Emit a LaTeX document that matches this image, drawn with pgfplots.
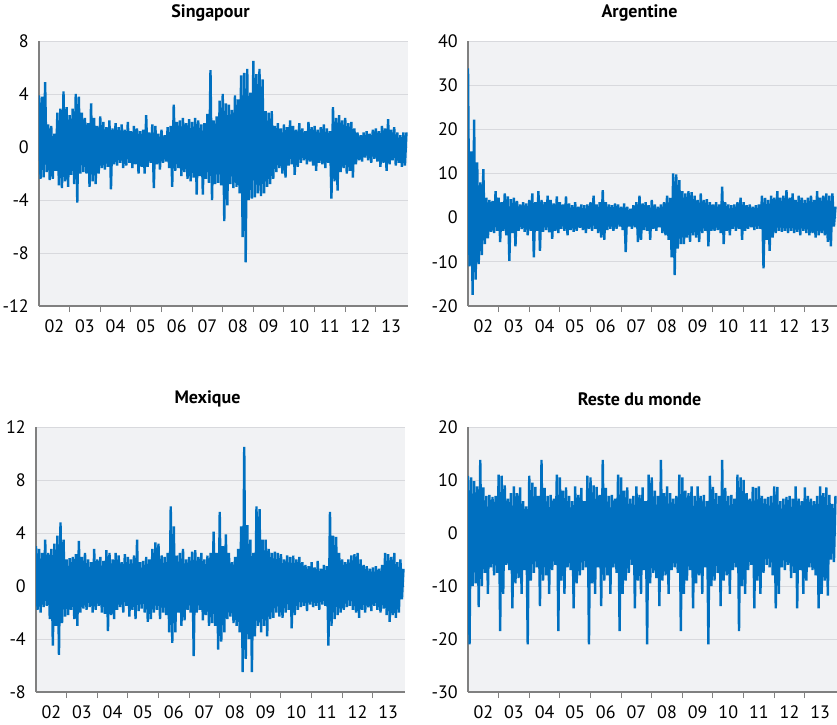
\documentclass[border=0pt]{standalone}
\usepackage{pgfplots}
\pgfplotsset{compat=1.18}
\usepackage{fontspec}
\setmainfont{PT Sans}
\definecolor{serie}{RGB}{0,112,192}
\definecolor{bgc}{RGB}{241,242,244}
\definecolor{gridc}{RGB}{216,217,221}
\definecolor{axc}{RGB}{128,128,128}
\pgfplotsset{
  panel/.style={
    scale only axis, width=369pt, height=265pt,
    xmin=0, xmax=241,
    axis x line*=bottom, axis y line*=left,
    axis line style={-, draw=axc, line width=1.2pt},
    axis background/.style={fill=bgc},
    xtick={10,30,...,230},
    xticklabels={02,03,04,05,06,07,08,09,10,11,12,13},
    minor xtick={20,40,...,220},
    major tick length=0pt, minor tick length=6pt,
    tick align=outside,
    minor tick style={draw=axc, line width=1pt},
    ymajorgrids, grid style={draw=gridc, line width=0.9pt},
    /pgf/number format/assume math mode=true,
    tick label style={font=\fontsize{18}{20}\selectfont},
    xticklabel style={anchor=north, inner sep=0pt, yshift=-13pt},
    yticklabel style={anchor=east, inner sep=0pt, xshift=-10pt},
    every axis title shift=0pt,
    title style={at={(0.5,1)}, anchor=center, yshift=28pt, xshift=-13pt, font=\bfseries\fontsize{18}{20}\selectfont},
  },
  serieplot/.style={draw=serie, line width=2.4pt, line join=bevel, mark=none},
}
\begin{document}
\begin{tikzpicture}
\path[use as bounding box] (0,0) rectangle (837pt,724pt);
% ---------------- Singapour
\begin{axis}[panel, at={(39pt,418pt)}, anchor=south west, title={Singapour},
  ymin=-12, ymax=8, ytick={-12,-8,-4,0,4,8}]
\addplot[serieplot] coordinates {
(0,3.9)(1,-2.4)(2,3.8)(3,-2.3)(4,4.9)(5,-1.9)(6,1.7)(7,-2.5)(8,1.6)(9,-2.4)
(10,1.0)(11,-1.8)(12,2.6)(13,-2.9)(14,2.9)(15,-3.1)(16,4.2)(17,-2.6)(18,3.0)(19,-3.0)
(20,2.4)(21,-2.1)(22,2.9)(23,-2.8)(24,4.0)(25,-4.2)(26,3.8)(27,-2.0)(28,2.6)(29,-1.9)
(30,2.2)(31,-2.0)(32,1.8)(33,-3.0)(34,3.3)(35,-2.6)(36,2.2)(37,-2.8)(38,1.6)(39,-2.0)
(40,2.3)(41,-1.6)(42,1.9)(43,-1.7)(44,1.5)(45,-1.5)(46,2.0)(47,-3.2)(48,1.4)(49,-1.3)
(50,1.8)(51,-1.4)(52,1.5)(53,-1.2)(54,1.7)(55,-1.6)(56,1.3)(57,-1.4)(58,1.9)(59,-1.2)
(60,1.2)(61,-1.6)(62,1.6)(63,-1.3)(64,1.4)(65,-2.0)(66,1.2)(67,-1.5)(68,1.3)(69,-2.0)
(70,2.4)(71,-1.5)(72,1.1)(73,-1.2)(74,1.7)(75,-3.1)(76,1.6)(77,-1.3)(78,1.0)(79,-1.7)
(80,1.3)(81,-1.2)(82,0.9)(83,-1.1)(84,1.5)(85,-1.6)(86,1.6)(87,-3.0)(88,3.2)(89,-1.8)
(90,1.9)(91,-1.6)(92,2.0)(93,-2.2)(94,2.2)(95,-1.9)(96,1.8)(97,-2.4)(98,2.1)(99,-2.6)
(100,1.9)(101,-2.3)(102,2.2)(103,-3.6)(104,2.0)(105,-2.2)(106,1.7)(107,-3.6)(108,1.8)(109,-2.4)
(110,2.5)(111,-2.7)(112,5.8)(113,-4.0)(114,2.0)(115,-2.8)(116,2.3)(117,-2.7)(118,3.5)(119,-2.9)
(120,4.0)(121,-5.6)(122,3.3)(123,-4.4)(124,3.2)(125,-2.8)(126,2.8)(127,-3.1)(128,3.9)(129,-3.0)
(130,3.6)(131,-3.5)(132,5.4)(133,-6.8)(134,5.6)(135,-8.7)(136,5.9)(137,-4.0)(138,4.1)(139,-3.9)
(140,6.5)(141,-3.8)(142,5.5)(143,-3.5)(144,5.9)(145,-3.7)(146,5.1)(147,-3.5)(148,2.7)(149,-3.0)
(150,2.6)(151,-2.8)(152,2.7)(153,-2.4)(154,1.6)(155,-1.9)(156,1.8)(157,-1.6)(158,1.4)(159,-2.0)
(160,1.7)(161,-2.3)(162,1.5)(163,-1.4)(164,2.0)(165,-1.3)(166,1.6)(167,-2.1)(168,1.3)(169,-1.5)
(170,1.8)(171,-1.2)(172,1.4)(173,-1.0)(174,1.2)(175,-1.3)(176,1.9)(177,-1.1)(178,1.5)(179,-1.4)
(180,1.6)(181,-1.8)(182,1.3)(183,-1.2)(184,1.5)(185,-1.3)(186,1.7)(187,-1.6)(188,1.4)(189,-1.2)
(190,1.2)(191,-3.9)(192,3.0)(193,-2.6)(194,2.2)(195,-3.3)(196,2.4)(197,-1.9)(198,2.0)(199,-1.6)
(200,2.2)(201,-2.0)(202,1.8)(203,-1.8)(204,1.9)(205,-2.3)(206,1.4)(207,-1.3)(208,1.1)(209,-1.0)
(210,0.9)(211,-1.1)(212,1.1)(213,-0.8)(214,1.2)(215,-1.0)(216,1.0)(217,-1.2)(218,1.3)(219,-0.9)
(220,1.4)(221,-1.1)(222,1.2)(223,-1.5)(224,1.6)(225,-1.2)(226,1.4)(227,-1.8)(228,2.1)(229,-1.3)
(230,1.3)(231,-1.0)(232,1.5)(233,-1.4)(234,1.1)(235,-1.2)(236,0.9)(237,-1.5)(238,1.1)(239,-1.4)(240,1.1)
};
\end{axis}
% ---------------- Argentine
\begin{axis}[panel, at={(468pt,418pt)}, anchor=south west, title={Argentine},
  ymin=-20, ymax=40, ytick={-20,-10,0,10,20,30,40}]
\addplot[serieplot] coordinates {
(0,33.8)(1,-11.0)(2,15.0)(3,-17.5)(4,22.2)(5,-14.0)(6,12.5)(7,-10.5)(8,8.0)(9,-8.5)
(10,11.0)(11,-6.0)(12,4.5)(13,-4.7)(14,4.0)(15,-3.2)(16,3.8)(17,-3.5)(18,6.0)(19,-3.0)
(20,4.5)(21,-5.5)(22,3.5)(23,-3.0)(24,5.5)(25,-4.0)(26,4.8)(27,-9.8)(28,4.2)(29,-3.5)
(30,4.5)(31,-6.5)(32,3.8)(33,-3.0)(34,3.0)(35,-2.6)(36,3.5)(37,-3.2)(38,3.2)(39,-4.0)
(40,4.0)(41,-3.0)(42,5.5)(43,-9.0)(44,3.5)(45,-3.0)(46,6.0)(47,-7.5)(48,4.0)(49,-3.2)
(50,3.5)(51,-2.8)(52,5.0)(53,-3.3)(54,4.0)(55,-4.8)(56,3.2)(57,-3.0)(58,4.8)(59,-3.5)
(60,3.5)(61,-2.5)(62,3.0)(63,-3.0)(64,4.8)(65,-4.0)(66,3.2)(67,-2.8)(68,2.8)(69,-3.2)
(70,3.5)(71,-3.0)(72,2.5)(73,-2.3)(74,3.0)(75,-2.8)(76,2.8)(77,-3.5)(78,3.0)(79,-2.5)
(80,3.5)(81,-3.0)(82,5.0)(83,-2.5)(84,3.0)(85,-3.5)(86,3.5)(87,-4.5)(88,6.2)(89,-5.0)
(90,3.5)(91,-2.8)(92,3.0)(93,-2.5)(94,2.8)(95,-3.0)(96,3.2)(97,-2.5)(98,3.0)(99,-2.0)
(100,2.5)(101,-2.8)(102,3.2)(103,-7.8)(104,2.5)(105,-2.0)(106,2.0)(107,-2.5)(108,2.8)(109,-2.2)
(110,3.5)(111,-5.5)(112,5.0)(113,-5.0)(114,3.2)(115,-2.8)(116,3.5)(117,-3.0)(118,2.8)(119,-5.0)
(120,4.0)(121,-2.5)(122,3.0)(123,-3.0)(124,2.5)(125,-2.2)(126,3.0)(127,-3.5)(128,3.5)(129,-4.0)
(130,5.0)(131,-5.0)(132,4.5)(133,-9.0)(134,10.0)(135,-13.0)(136,9.8)(137,-7.0)(138,8.5)(139,-6.0)
(140,6.0)(141,-6.0)(142,5.5)(143,-4.5)(144,6.0)(145,-5.5)(146,5.8)(147,-4.0)(148,5.0)(149,-4.5)
(150,4.0)(151,-5.5)(152,5.5)(153,-3.5)(154,4.0)(155,-3.0)(156,4.2)(157,-6.5)(158,3.5)(159,-3.0)
(160,3.0)(161,-3.0)(162,3.5)(163,-2.8)(164,3.0)(165,-3.5)(166,7.0)(167,-6.0)(168,3.5)(169,-3.0)
(170,3.0)(171,-4.0)(172,2.8)(173,-2.5)(174,3.0)(175,-3.0)(176,3.5)(177,-2.5)(178,4.5)(179,-5.0)
(180,3.5)(181,-3.0)(182,2.8)(183,-2.5)(184,3.0)(185,-2.2)(186,2.5)(187,-2.8)(188,2.8)(189,-2.5)
(190,3.0)(191,-2.5)(192,5.0)(193,-11.5)(194,4.5)(195,-5.0)(196,4.0)(197,-7.5)(198,5.0)(199,-4.5)
(200,4.5)(201,-3.5)(202,6.0)(203,-3.0)(204,4.5)(205,-3.2)(206,5.0)(207,-3.0)(208,6.2)(209,-3.5)
(210,4.5)(211,-3.0)(212,5.5)(213,-3.5)(214,4.0)(215,-3.2)(216,5.0)(217,-4.0)(218,4.5)(219,-3.0)
(220,4.0)(221,-3.5)(222,4.5)(223,-4.0)(224,5.0)(225,-3.5)(226,4.0)(227,-4.5)(228,6.0)(229,-4.0)
(230,4.5)(231,-3.5)(232,5.0)(233,-4.0)(234,5.5)(235,-5.5)(236,5.0)(237,-6.5)(238,5.5)(239,-2.0)(240,2.5)
};
\end{axis}
% ---------------- Mexique
\begin{axis}[panel, at={(36pt,32pt)}, anchor=south west, title={Mexique},
  ymin=-8, ymax=12, ytick={-8,-4,0,4,8,12}]
\addplot[serieplot] coordinates {
(0,3.0)(1,-1.8)(2,2.8)(3,-2.0)(4,2.5)(5,-1.6)(6,3.5)(7,-1.5)(8,2.5)(9,-2.5)
(10,2.8)(11,-4.5)(12,3.2)(13,-3.0)(14,3.8)(15,-5.2)(16,4.8)(17,-2.8)(18,3.5)(19,-2.3)
(20,2.0)(21,-2.2)(22,2.1)(23,-1.8)(24,2.2)(25,-2.5)(26,2.4)(27,-3.0)(28,3.4)(29,-2.0)
(30,2.2)(31,-1.7)(32,2.5)(33,-1.8)(34,2.0)(35,-1.6)(36,1.8)(37,-2.0)(38,2.8)(39,-1.8)
(40,2.0)(41,-1.5)(42,2.2)(43,-2.0)(44,1.9)(45,-2.1)(46,2.7)(47,-3.4)(48,2.5)(49,-2.2)
(50,2.0)(51,-2.5)(52,2.5)(53,-1.8)(54,2.3)(55,-1.6)(56,1.8)(57,-2.0)(58,2.4)(59,-1.5)
(60,2.2)(61,-2.3)(62,2.0)(63,-1.8)(64,2.3)(65,-2.5)(66,3.5)(67,-1.9)(68,1.8)(69,-1.7)
(70,1.9)(71,-2.0)(72,2.2)(73,-2.7)(74,2.0)(75,-2.5)(76,2.8)(77,-2.0)(78,3.3)(79,-1.8)
(80,3.2)(81,-2.5)(82,2.3)(83,-2.0)(84,2.2)(85,-2.2)(86,2.5)(87,-3.5)(88,6.0)(89,-4.3)
(90,4.5)(91,-3.5)(92,2.3)(93,-2.0)(94,2.5)(95,-3.0)(96,2.8)(97,-2.6)(98,2.0)(99,-1.8)
(100,2.2)(101,-2.0)(102,2.6)(103,-5.3)(104,2.7)(105,-2.0)(106,2.2)(107,-1.8)(108,2.5)(109,-2.6)
(110,2.0)(111,-2.2)(112,2.3)(113,-3.0)(114,2.5)(115,-2.8)(116,4.1)(117,-3.0)(118,2.5)(119,-4.8)
(120,5.6)(121,-4.2)(122,3.0)(123,-3.5)(124,3.9)(125,-2.5)(126,2.5)(127,-2.3)(128,1.8)(129,-2.8)
(130,2.2)(131,-3.0)(132,2.8)(133,-3.5)(134,4.5)(135,-6.5)(136,10.5)(137,-5.5)(138,4.6)(139,-4.0)
(140,3.5)(141,-6.5)(142,2.5)(143,-3.8)(144,6.0)(145,-3.0)(146,5.8)(147,-3.5)(148,3.5)(149,-3.0)
(150,3.5)(151,-3.8)(152,2.8)(153,-2.5)(154,2.5)(155,-2.4)(156,2.6)(157,-2.0)(158,2.5)(159,-2.3)
(160,2.4)(161,-2.4)(162,2.0)(163,-2.0)(164,2.3)(165,-1.8)(166,2.2)(167,-3.2)(168,2.3)(169,-2.2)
(170,2.0)(171,-1.8)(172,2.2)(173,-1.6)(174,1.8)(175,-1.5)(176,1.6)(177,-1.9)(178,1.5)(179,-1.4)
(180,1.8)(181,-1.6)(182,1.4)(183,-1.5)(184,1.9)(185,-1.8)(186,1.3)(187,-1.4)(188,1.6)(189,-1.5)
(190,1.5)(191,-4.5)(192,5.6)(193,-3.0)(194,3.8)(195,-2.5)(196,3.7)(197,-2.2)(198,2.5)(199,-2.0)
(200,2.0)(201,-1.8)(202,1.8)(203,-1.6)(204,2.0)(205,-1.5)(206,2.3)(207,-1.8)(208,2.4)(209,-2.0)
(210,2.5)(211,-2.4)(212,2.0)(213,-1.8)(214,1.6)(215,-2.0)(216,1.5)(217,-1.6)(218,1.3)(219,-1.9)
(220,1.4)(221,-1.5)(222,1.5)(223,-1.8)(224,1.3)(225,-2.0)(226,1.6)(227,-1.7)(228,2.5)(229,-2.2)
(230,2.4)(231,-2.7)(232,2.2)(233,-2.2)(234,2.5)(235,-2.4)(236,1.8)(237,-2.0)(238,2.0)(239,-1.0)(240,1.3)
};
\end{axis}
% ---------------- Reste du monde
\begin{axis}[panel, at={(468pt,32pt)}, anchor=south west, title={Reste du monde},
  ymin=-30, ymax=20, ytick={-30,-20,-10,0,10,20}]
\addplot[serieplot] coordinates {
(0,10.8)(1,-21.0)(2,10.5)(3,-10.0)(4,9.8)(5,-9.5)(6,8.8)(7,-14.0)(8,13.8)(9,-10.0)
(10,8.6)(11,-7.5)(12,7.0)(13,-11.5)(14,7.2)(15,-6.5)(16,6.8)(17,-8.0)(18,7.0)(19,-7.5)
(20,11.0)(21,-18.5)(22,10.8)(23,-11.5)(24,9.0)(25,-6.0)(26,6.5)(27,-7.0)(28,7.5)(29,-14.2)
(30,8.8)(31,-9.5)(32,7.5)(33,-8.5)(34,8.6)(35,-11.5)(36,6.0)(37,-7.0)(38,5.0)(39,-21.0)
(40,10.8)(41,-9.0)(42,9.5)(43,-7.5)(44,8.7)(45,-6.5)(46,7.0)(47,-13.8)(48,13.8)(49,-9.0)
(50,8.5)(51,-8.0)(52,7.0)(53,-11.5)(54,7.2)(55,-7.0)(56,6.5)(57,-6.0)(58,11.0)(59,-18.5)
(60,10.5)(61,-9.0)(62,8.0)(63,-11.5)(64,8.6)(65,-6.5)(66,7.0)(67,-7.0)(68,6.0)(69,-14.2)
(70,8.8)(71,-9.5)(72,7.2)(73,-8.0)(74,8.5)(75,-7.0)(76,6.0)(77,-6.5)(78,10.8)(79,-21.0)
(80,10.5)(81,-9.5)(82,9.0)(83,-11.5)(84,8.7)(85,-6.5)(86,7.2)(87,-13.8)(88,13.8)(89,-9.0)
(90,8.5)(91,-8.0)(92,7.0)(93,-11.5)(94,7.2)(95,-6.5)(96,6.5)(97,-7.5)(98,11.0)(99,-18.5)
(100,10.5)(101,-11.5)(102,8.0)(103,-9.0)(104,8.6)(105,-7.5)(106,6.5)(107,-6.0)(108,7.0)(109,-14.2)
(110,8.8)(111,-9.0)(112,7.2)(113,-11.5)(114,8.6)(115,-7.0)(116,6.0)(117,-21.0)(118,11.0)(119,-9.5)
(120,10.5)(121,-7.5)(122,8.0)(123,-8.5)(124,7.0)(125,-13.8)(126,13.8)(127,-9.0)(128,7.5)(129,-8.0)
(130,8.8)(131,-11.5)(132,7.5)(133,-7.0)(134,6.5)(135,-6.5)(136,7.0)(137,-7.5)(138,11.0)(139,-18.5)
(140,10.5)(141,-11.5)(142,8.0)(143,-9.0)(144,7.5)(145,-7.0)(146,8.8)(147,-14.2)(148,7.0)(149,-9.5)
(150,8.8)(151,-8.0)(152,7.0)(153,-11.5)(154,7.2)(155,-6.5)(156,6.0)(157,-21.0)(158,10.8)(159,-10.0)
(160,8.7)(161,-9.0)(162,7.5)(163,-7.5)(164,7.0)(165,-13.8)(166,13.8)(167,-9.0)(168,8.5)(169,-8.0)
(170,7.0)(171,-11.5)(172,7.2)(173,-7.0)(174,6.5)(175,-6.5)(176,11.0)(177,-18.5)(178,10.5)(179,-10.0)
(180,10.0)(181,-11.5)(182,7.5)(183,-7.0)(184,6.5)(185,-6.0)(186,8.7)(187,-14.2)(188,8.5)(189,-9.0)
(190,8.8)(191,-11.5)(192,7.0)(193,-7.5)(194,6.5)(195,-6.0)(196,6.8)(197,-6.5)(198,7.0)(199,-8.0)
(200,8.8)(201,-14.2)(202,8.7)(203,-11.5)(204,6.0)(205,-6.5)(206,6.5)(207,-7.0)(208,6.8)(209,-6.0)
(210,7.0)(211,-8.5)(212,6.5)(213,-7.5)(214,8.8)(215,-14.2)(216,6.5)(217,-7.0)(218,6.0)(219,-11.5)
(220,8.6)(221,-9.0)(222,7.0)(223,-6.5)(224,6.5)(225,-7.0)(226,6.0)(227,-8.0)(228,7.0)(229,-14.2)
(230,8.8)(231,-11.5)(232,7.5)(233,-9.0)(234,8.6)(235,-11.8)(236,7.2)(237,-5.0)(238,5.5)(239,-5.5)(240,7.0)
};
\end{axis}
\end{tikzpicture}
\end{document}
